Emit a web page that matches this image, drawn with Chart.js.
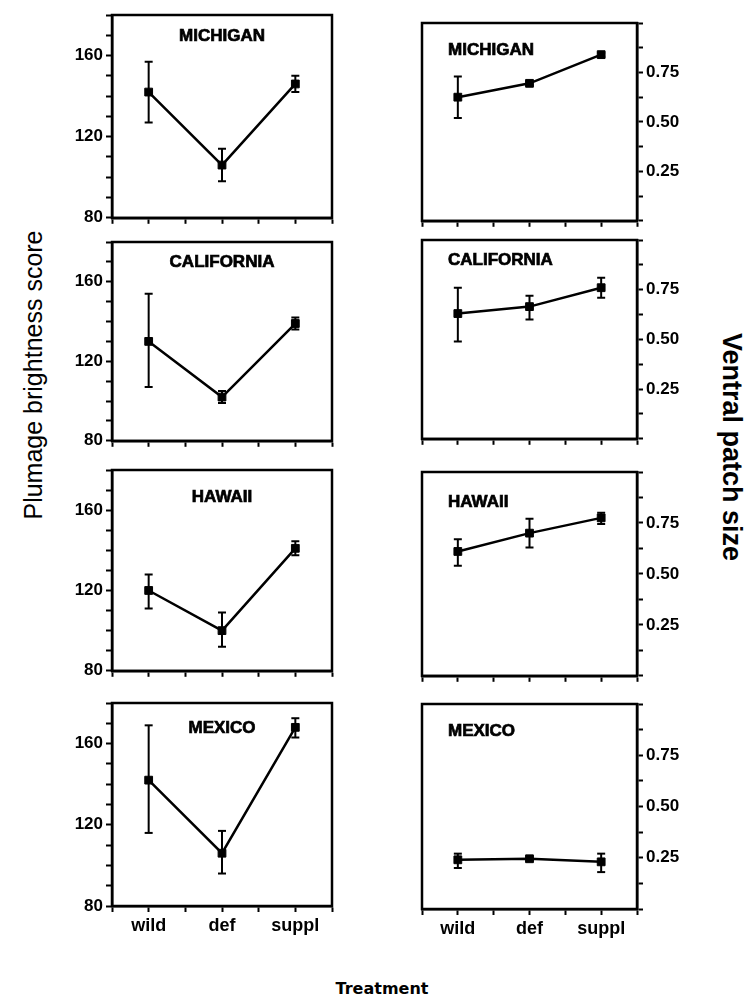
<!DOCTYPE html>
<html>
<head>
<meta charset="utf-8">
<script src="https://cdn.jsdelivr.net/npm/chart.js@4.4.1/dist/chart.umd.min.js"></script>
<style>
body { margin: 0; background: #fff; }
#wrap { position: relative; width: 745px; height: 997px; overflow: hidden; font-family: "Liberation Sans", Arial, sans-serif; }
canvas { position: absolute; }
.lab { position: absolute; white-space: nowrap; color: #000; line-height: 1; transform-origin: center center; }
#ylabL { left: 33px; top: 375px; font-size: 25px; transform: translate(-50%, -50%) rotate(-90deg); }
#ylabR { left: 731px; top: 447px; font-size: 27px; font-weight: bold; transform: translate(-50%, -50%) rotate(90deg); }
#xlab { left: 382px; top: 989px; font-size: 16px; font-weight: bold; font-family: "DejaVu Sans", sans-serif; transform: translate(-50%, -50%); }
</style>
</head>
<body>
<div id="wrap">
  <div class="lab" id="ylabL">Plumage brightness score</div>
  <div class="lab" id="ylabR">Ventral patch size</div>
  <div class="lab" id="xlab">Treatment</div>
</div>
<script>
const treatments = ['wild', 'def', 'suppl'];
const regions = ['MICHIGAN', 'CALIFORNIA', 'HAWAII', 'MEXICO'];

// plumage brightness score, one row per region (wild, def, suppl)
const plumageMean = [[142, 106, 146], [130, 102, 139], [120, 100, 141], [142, 106, 168]];
const plumageLow  = [[127, 98, 142], [107, 99, 136], [111, 92, 137.5], [116, 96, 163]];
const plumageHigh = [[157, 114, 150], [154, 105, 142], [128, 109, 144.5], [169, 117, 172.5]];
const plumageTicks = [80, 120, 160];

// ventral patch size, one row per region (wild, def, suppl)
const patchMean = [[0.625, 0.695, 0.84], [0.63, 0.665, 0.76], [0.61, 0.70, 0.775], [0.24, 0.245, 0.23]];
const patchLow  = [[0.52, 0.685, 0.83], [0.49, 0.60, 0.71], [0.54, 0.63, 0.745], [0.20, 0.235, 0.18]];
const patchHigh = [[0.73, 0.705, 0.85], [0.76, 0.72, 0.81], [0.67, 0.77, 0.80], [0.27, 0.255, 0.27]];
const patchTicks = [0.25, 0.5, 0.75];

// plot box top/bottom (px) for each row
const leftBoxes = [[15, 219], [242, 442], [470, 672], [703, 906]];
const rightBoxes = [[23, 222], [240, 440], [472, 677], [704, 909]];
const leftTitleDy = [21, 20, 27, 25];
const rightTitleDy = [27, 20, 30, 27];

const tickFont = { family: 'Liberation Sans', weight: 'bold', size: 17 };

const framePlugin = {
    id: 'frame',
    afterDatasetsDraw(chart) {
        const a = chart.chartArea;
        const ctx = chart.ctx;
        ctx.save();
        ctx.lineWidth = 2.5;
        ctx.strokeStyle = '#000';
        ctx.strokeRect(a.left, a.top, a.right - a.left, a.bottom - a.top);
        ctx.restore();
    }
};

const titlePlugin = {
    id: 'panelTitle',
    afterDraw(chart, args, opts) {
        const a = chart.chartArea;
        const ctx = chart.ctx;
        ctx.save();
        ctx.font = 'bold 17px "Liberation Sans"';
        ctx.fillStyle = '#000';
        ctx.strokeStyle = '#000';
        ctx.lineWidth = 0.7;
        ctx.textBaseline = 'middle';
        let x;
        if (opts.align === 'center') {
            ctx.textAlign = 'center';
            x = (a.left + a.right) / 2;
        } else {
            ctx.textAlign = 'left';
            x = a.left + 26;
        }
        ctx.fillText(opts.text, x, a.top + opts.dy);
        ctx.strokeText(opts.text, x, a.top + opts.dy);
        ctx.restore();
    }
};

function makePanel(left, row) {
    const box = left ? leftBoxes[row] : rightBoxes[row];
    const bottomRow = row === 3;
    const padTop = 14;
    const axisH = bottomRow ? 40 : 12;
    const w = left ? 310 : 302;
    const h = padTop + (box[1] - box[0]) + axisH;

    const canvas = document.createElement('canvas');
    canvas.width = w;
    canvas.height = h;
    canvas.style.width = w + 'px';
    canvas.style.height = h + 'px';
    canvas.style.left = (left ? 40 : 400) + 'px';
    canvas.style.top = (box[0] - padTop) + 'px';
    document.getElementById('wrap').appendChild(canvas);

    const mean = left ? plumageMean[row] : patchMean[row];
    const low = left ? plumageLow[row] : patchLow[row];
    const high = left ? plumageHigh[row] : patchHigh[row];

    const meanData = mean.map((v, i) => ({ x: i, y: v }));
    const errData = [];
    for (let i = 0; i < mean.length; i++) {
        errData.push({ x: i, y: low[i] }, { x: i, y: high[i] }, { x: i + 0.5, y: null });
    }

    new Chart(canvas, {
        type: 'line',
        data: {
            datasets: [
                {
                    data: errData,
                    borderColor: '#000',
                    borderWidth: 2,
                    pointStyle: 'line',
                    pointRadius: 4,
                    pointBorderWidth: 2,
                    pointBorderColor: '#000',
                    spanGaps: false
                },
                {
                    data: meanData,
                    borderColor: '#000',
                    borderWidth: 2.5,
                    pointStyle: 'rect',
                    pointRadius: 5.5,
                    pointBackgroundColor: '#000',
                    pointBorderColor: '#000',
                    pointBorderWidth: 1,
                    tension: 0
                }
            ]
        },
        options: {
            responsive: false,
            animation: false,
            layout: { padding: { top: padTop, right: left ? 18 : 0, left: left ? 0 : 22, bottom: 0 } },
            plugins: {
                legend: { display: false },
                tooltip: { enabled: false },
                panelTitle: {
                    text: regions[row],
                    align: left ? 'center' : 'left',
                    dy: left ? leftTitleDy[row] : rightTitleDy[row]
                }
            },
            scales: {
                x: {
                    type: 'linear',
                    min: -0.5,
                    max: 2.5,
                    afterFit: s => { s.height = axisH; },
                    ticks: {
                        stepSize: 0.5,
                        autoSkip: false,
                        maxRotation: 0,
                        padding: 3,
                        color: '#000',
                        font: { family: 'Liberation Sans', weight: 'bold', size: 18 },
                        callback: v => (bottomRow && Number.isInteger(v)) ? treatments[v] : ''
                    },
                    grid: { drawOnChartArea: false, drawTicks: true, tickLength: 6, tickWidth: 2, color: '#000' },
                    border: { color: '#000', width: 2.5 }
                },
                y: {
                    position: left ? 'left' : 'right',
                    min: left ? 80 : 0,
                    max: left ? 180 : 1,
                    afterFit: s => { s.width = left ? 72 : 65; },
                    ticks: {
                        stepSize: left ? 10 : 0.125,
                        autoSkip: false,
                        padding: 3,
                        color: '#000',
                        font: tickFont,
                        callback: v => left
                            ? (plumageTicks.includes(v) ? String(v) : '')
                            : (patchTicks.includes(v) ? v.toFixed(2) : '')
                    },
                    grid: { drawOnChartArea: false, drawTicks: true, tickLength: 6, tickWidth: 2, color: '#000' },
                    border: { color: '#000', width: 2.5 }
                }
            }
        },
        plugins: [framePlugin, titlePlugin]
    });
}

for (let r = 0; r < 4; r++) {
    makePanel(true, r);
    makePanel(false, r);
}
</script>
</body>
</html>
